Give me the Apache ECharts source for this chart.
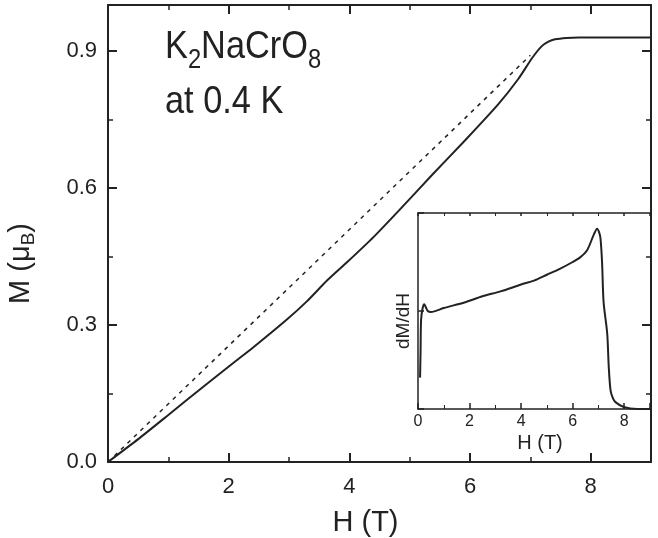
<!DOCTYPE html>
<html lang="en">
<head>
    <meta charset="utf-8"/>
    <title>K2NaCrO8 magnetization</title>
    <script src="https://cdn.jsdelivr.net/npm/echarts@6/dist/echarts.min.js"></script>
</head>
<body style="margin: 0;">
<div id="chart" style="width: 658px; height: 538px;"></div>
<script type="text/javascript">
    // M(H) at 0.4 K: [H (T), M (muB)]
    const magnetization = [
        [0, 0], [0.5, 0.05], [1.0, 0.103], [1.6, 0.167], [2.06, 0.215], [2.4, 0.25],
        [2.95, 0.31], [3.3, 0.352], [3.63, 0.397], [3.97, 0.438], [4.4, 0.492],
        [4.82, 0.55], [5.37, 0.628], [5.92, 0.704], [6.47, 0.783], [6.8, 0.838],
        [7.03, 0.884], [7.19, 0.91], [7.3, 0.92], [7.41, 0.925], [7.6, 0.928],
        [7.8, 0.929], [8.5, 0.929], [9, 0.929]
    ];
    // straight reference line
    const linearGuide = [[0, 0], [7.0, 0.89]];
    // inset dM/dH (arb. units)
    const derivative = [
        [0.08, 0.32], [0.1, 0.6], [0.12, 0.91], [0.18, 1.03], [0.24, 1.07], [0.3, 1.04],
        [0.38, 1.0], [0.5, 0.99], [1.0, 1.03], [1.83, 1.09], [2.5, 1.15], [3.2, 1.2],
        [4.0, 1.27], [4.5, 1.31], [5.0, 1.37], [5.5, 1.43], [6.0, 1.5], [6.3, 1.55],
        [6.56, 1.62], [6.82, 1.78], [6.95, 1.84], [7.03, 1.8], [7.08, 1.74], [7.14, 1.5],
        [7.2, 1.09], [7.34, 0.77], [7.4, 0.43], [7.47, 0.19], [7.56, 0.11], [7.66, 0.07],
        [7.98, 0.02], [8.5, 0.0], [9, 0.0]
    ];
    const mainYTicks = [0, 0.3, 0.6, 0.9];

    const font = '"Liberation Sans", Arial, sans-serif';
    const ink = '#222';
    let chart = echarts.init(document.getElementById('chart'));

    function frameAxis(extra) {
        return Object.assign({
            type: 'value',
            axisLine: {show: true, onZero: false, lineStyle: {color: ink, width: 2}},
            axisTick: {show: true, inside: true, length: 9, lineStyle: {color: ink, width: 2}},
            minorTick: {show: true, splitNumber: 2, length: 5, lineStyle: {color: ink, width: 1.5}},
            splitLine: {show: false},
            axisLabel: {show: false}
        }, extra);
    }

    chart.setOption({
        animation: false,
        backgroundColor: '#fff',
        grid: [
            {left: 108, right: 7, top: 5, bottom: 76, outerBoundsMode: 'none'},
            {left: 418, width: 232, top: 213, height: 196, outerBoundsMode: 'none'}
        ],
        xAxis: [
            frameAxis({
                gridIndex: 0, position: 'bottom', min: 0, max: 9, interval: 2,
                name: 'H (T)', nameLocation: 'middle', nameGap: 46,
                nameTextStyle: {fontFamily: font, fontSize: 29, color: ink, padding: [0, 28, 0, 0]},
                axisLabel: {show: true, fontFamily: font, fontSize: 22, color: ink, margin: 14,
                    formatter: function (v) { return v % 2 === 0 && v < 9 ? String(v) : ''; }}
            }),
            frameAxis({gridIndex: 0, position: 'top', min: 0, max: 9, interval: 2}),
            frameAxis({
                gridIndex: 1, position: 'bottom', min: 0, max: 9, interval: 2,
                axisTick: {show: true, inside: true, length: 6, lineStyle: {color: ink, width: 1.5}},
                minorTick: {show: true, splitNumber: 2, length: 4, lineStyle: {color: ink, width: 1}},
                axisLine: {show: true, onZero: false, lineStyle: {color: ink, width: 1.5}},
                name: 'H (T)', nameLocation: 'middle', nameGap: 24,
                nameTextStyle: {fontFamily: font, fontSize: 20, color: ink, padding: [0, 0, 0, 12]},
                axisLabel: {show: true, fontFamily: font, fontSize: 16, color: ink, margin: 5,
                    formatter: function (v) { return v % 2 === 0 && v < 9 ? String(v) : ''; }}
            }),
            frameAxis({
                gridIndex: 1, position: 'top', min: 0, max: 9, interval: 2,
                axisTick: {show: true, inside: true, length: 3, lineStyle: {color: ink, width: 1.5}},
                minorTick: {show: true, splitNumber: 2, length: 3, lineStyle: {color: ink, width: 1}},
                axisLine: {show: true, onZero: false, lineStyle: {color: ink, width: 1.5}}
            })
        ],
        yAxis: [
            frameAxis({
                gridIndex: 0, position: 'left', min: 0, max: 1.0, interval: 0.3,
                name: 'M (μ{sub|B})', nameLocation: 'middle', nameGap: 70,
                nameTextStyle: {fontFamily: font, fontSize: 29, color: ink, padding: [0, 60, 0, 0],
                    rich: {sub: {fontFamily: font, fontSize: 19, color: ink, padding: [16, 0, 0, 0]}}},
                axisLabel: {show: true, fontFamily: font, fontSize: 22, color: ink, margin: 11,
                    formatter: function (v) {
                        return mainYTicks.some(t => Math.abs(t - v) < 1e-6) ? v.toFixed(1) : '';
                    }}
            }),
            frameAxis({gridIndex: 0, position: 'right', min: 0, max: 1.0, interval: 0.3}),
            frameAxis({
                gridIndex: 1, position: 'left', min: 0, max: 2, interval: 1,
                axisTick: {show: true, inside: true, length: 6, lineStyle: {color: ink, width: 1.5}},
                minorTick: {show: false},
                axisLine: {show: true, onZero: false, lineStyle: {color: ink, width: 1.5}},
                name: 'dM/dH', nameLocation: 'middle', nameGap: 5,
                nameTextStyle: {fontFamily: font, fontSize: 19, color: ink, padding: [0, 20, 0, 0]}
            })
        ],
        series: [
            {
                type: 'line', xAxisIndex: 0, yAxisIndex: 0, data: linearGuide,
                showSymbol: false, silent: true,
                lineStyle: {color: ink, width: 1.5, type: [4, 5]}
            },
            {
                type: 'line', xAxisIndex: 0, yAxisIndex: 0, data: magnetization,
                showSymbol: false, smooth: 0.2, silent: true,
                lineStyle: {color: ink, width: 2}
            },
            {
                type: 'line', xAxisIndex: 2, yAxisIndex: 2, data: derivative,
                showSymbol: false, smooth: 0.3, silent: true,
                lineStyle: {color: ink, width: 2}
            }
        ],
        graphic: [
            {
                type: 'text', x: 165, y: 21, scaleX: 0.88,
                style: {
                    text: 'K{sub|2}NaCrO{sub|8}',
                    font: '39px ' + font, fill: ink,
                    rich: {sub: {fontFamily: font, fontSize: 27, fill: ink, padding: [26, 0, 0, 0]}}
                }
            },
            {
                type: 'text', x: 165, y: 83, scaleX: 0.88,
                style: {text: 'at 0.4 K', font: '39px ' + font, fill: ink}
            }
        ]
    });
</script>
</body>
</html>
